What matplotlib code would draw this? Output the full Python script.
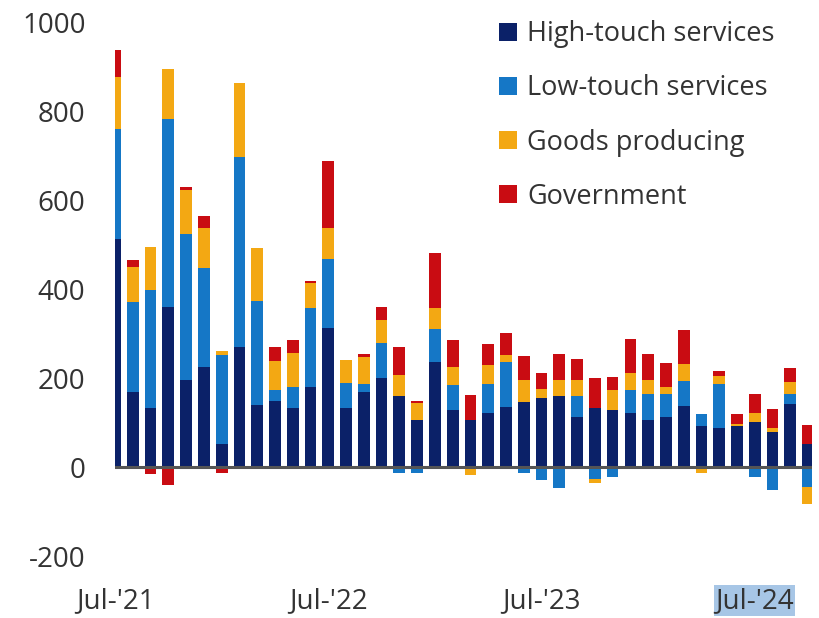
import numpy as np
import matplotlib
matplotlib.use("Agg")
import matplotlib.pyplot as plt

# monthly job gains by sector, Jul-21 .. Oct-24 (thousands)
months = ["Jul-21", "Aug-21", "Sep-21", "Oct-21", "Nov-21", "Dec-21", "Jan-22", "Feb-22",
          "Mar-22", "Apr-22", "May-22", "Jun-22", "Jul-22", "Aug-22", "Sep-22", "Oct-22",
          "Nov-22", "Dec-22", "Jan-23", "Feb-23", "Mar-23", "Apr-23", "May-23", "Jun-23",
          "Jul-23", "Aug-23", "Sep-23", "Oct-23", "Nov-23", "Dec-23", "Jan-24", "Feb-24",
          "Mar-24", "Apr-24", "May-24", "Jun-24", "Jul-24", "Aug-24", "Sep-24", "Oct-24"]

high_touch = [512, 170, 134, 360, 197, 225, 53, 271, 140, 149, 132, 180, 312, 134, 169, 201,
              161, 105, 236, 128, 105, 121, 136, 147, 156, 159, 113, 132, 129, 121, 105, 113,
              138, 93, 89, 93, 102, 79, 141, 53]
low_touch = [249, 201, 264, 422, 326, 223, 199, 427, 233, 24, 49, 178, 155, 56, 19, 79,
             -14, -14, 75, 56, 0, 67, 100, -12, -29, -46, 47, -26, -21, 52, 59, 52,
             56, 26, 97, 0, -22, -52, 24, -44]
goods = [116, 79, 97, 114, 101, 90, 9, 166, 120, 65, 76, 57, 71, 52, 60, 50,
         46, 40, 46, 41, -18, 42, 17, 49, 20, 37, 36, -10, 44, 39, 32, 15,
         37, -12, 19, 5, 19, 10, 26, -38]
government = [60, 15, -16, -39, 6, 26, -12, 0, 0, 33, 28, 3, 150, 0, 7, 30,
              64, 4, 125, 62, 57, 46, 48, 54, 35, 59, 48, 68, 30, 77, 59, 55,
              77, 0, 11, 22, 44, 41, 33, 41]

series = [("High-touch services", high_touch, "#0b2168"),
          ("Low-touch services", low_touch, "#1577c6"),
          ("Goods producing", goods, "#f3a813"),
          ("Government", government, "#c90c12")]

tick_pos = [0, 12, 24, 36]
tick_labels = ["Jul-'21", "Jul-'22", "Jul-'23", "Jul-'24"]

plt.rcParams['font.family'] = ['Open Sans', 'DejaVu Sans']
plt.rcParams['axes.unicode_minus'] = False

fig = plt.figure(figsize=(8.19, 6.18), dpi=100)
ax = fig.add_axes([0.140, 0.100, 0.851, 0.864])

x = np.arange(len(months))
pos_bottom = np.zeros(len(months))
neg_bottom = np.zeros(len(months))
for name, vals, color in series:
    v = np.array(vals, dtype=float)
    bottom = np.where(v >= 0, pos_bottom, neg_bottom)
    ax.bar(x, v, bottom=bottom, width=0.66, color=color, label=name, linewidth=0)
    pos_bottom += np.clip(v, 0, None)
    neg_bottom += np.clip(v, None, 0)

ax.axhline(0, color="#555555", linewidth=2.2, zorder=3)

ax.set_xlim(-0.02, 39.2)
ax.set_ylim(-200, 1000)
ax.set_yticks([-200, 0, 200, 400, 600, 800, 1000])
ax.set_xticks(tick_pos)
ax.set_xticklabels(tick_labels)
for s in ax.spines.values():
    s.set_visible(False)
ax.tick_params(axis='y', length=0, pad=21, labelsize=20, labelcolor="#333333")
ax.tick_params(axis='x', length=0, pad=22, labelsize=20, labelcolor="#333333")

# highlighted last label as in the source
lbl = ax.get_xticklabels()[-1]
lbl.set_bbox(dict(facecolor="#a7c6e6", edgecolor="none", pad=1))

ax.legend(loc="upper left", bbox_to_anchor=(0.596, 0.985), bbox_transform=fig.transFigure,
          frameon=False, fontsize=19.5, handlelength=0.65, handleheight=0.65,
          handletextpad=0.4, labelspacing=0.97, labelcolor="#333333", borderaxespad=0)

fig.savefig("out.png", dpi=100)
